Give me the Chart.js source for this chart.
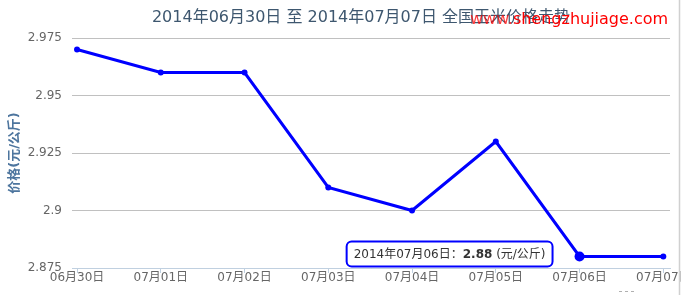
<!doctype html>
<html lang="zh">
<head>
<meta charset="utf-8">
<title>全国玉米价格走势</title>
<script src="https://cdn.jsdelivr.net/npm/chart.js"></script>
<style>
  body { margin: 0; background: #fff; }
  canvas { display: block; }
</style>
</head>
<body>
<canvas id="priceChart" width="681" height="295"></canvas>
<script>
// values
const year = '2014年';
const dates = ['06月30日', '07月01日', '07月02日', '07月03日', '07月04日', '07月05日', '07月06日', '07月07日'];
const prices = [2.97, 2.96, 2.96, 2.91, 2.90, 2.93, 2.88, 2.88];
const yTicks = [2.875, 2.9, 2.925, 2.95, 2.975];
const unit = '(元/公斤)';
const yTitle = '价格' + unit;
const titleText = year + dates[0] + ' 至 ' + year + dates[dates.length - 1] + ' 全国玉米价格走势';
const watermark = 'www.shengzhujiage.com';
const hoverIndex = 6;

const labelFont = '"DejaVu Sans", "Noto Sans CJK SC", sans-serif';

// title, watermark, frame edge and the fixed tooltip
const extras = {
  id: 'extras',
  afterDraw(chart) {
    const c = chart.ctx;
    c.save();
    c.font = '16px ' + labelFont;
    c.fillStyle = '#3E576F';
    c.textAlign = 'center';
    c.textBaseline = 'middle';
    c.fillText(titleText, 361, 18);

    // red site watermark
    c.textAlign = 'left';
    c.font = '16px ' + labelFont;
    const w1 = c.measureText('www.').width;
    c.fillStyle = 'rgba(255,0,0,0.75)';
    c.fillText('www.', 470, 20);
    c.fillStyle = '#FF0000';
    c.fillText(watermark.slice(4), 470 + w1, 20);

    // right edge of the frame
    c.strokeStyle = '#D0D0D0';
    c.lineWidth = 1.5;
    c.beginPath();
    c.moveTo(679.5, 0);
    c.lineTo(679.5, 295);
    c.stroke();
    // faint dashes at the bottom
    c.setLineDash([3, 3]);
    c.lineWidth = 1;
    c.strokeStyle = '#B0B0B0';
    c.beginPath();
    c.moveTo(619, 291.5);
    c.lineTo(636, 291.5);
    c.stroke();
    c.setLineDash([]);

    // tooltip for the hovered point
    const pt = chart.getDatasetMeta(0).data[hoverIndex];
    const parts = [
      { t: year + dates[hoverIndex] + '：', b: false },
      { t: prices[hoverIndex].toFixed(2), b: true },
      { t: ' ' + unit, b: false }
    ];
    let total = 0;
    parts.forEach(p => {
      c.font = (p.b ? 'bold ' : '') + '12px ' + labelFont;
      p.w = c.measureText(p.t).width;
      total += p.w;
    });
    const bw = total + 14, bh = 25;
    const bx = pt.x - 27 - bw, by = pt.y - 15;
    c.beginPath();
    c.roundRect(bx, by, bw, bh, 5);
    c.fillStyle = 'rgba(255,255,255,0.95)';
    c.fill();
    c.lineWidth = 2;
    c.strokeStyle = '#0000FF';
    c.stroke();
    let tx = bx + 7;
    c.fillStyle = '#333333';
    c.textBaseline = 'middle';
    parts.forEach(p => {
      c.font = (p.b ? 'bold ' : '') + '12px ' + labelFont;
      c.fillText(p.t, tx, by + bh / 2 + 1);
      tx += p.w;
    });
    c.restore();
  }
};

new Chart(document.getElementById('priceChart'), {
  type: 'line',
  data: {
    datasets: [{
      data: prices.map((v, i) => ({ x: i, y: v })),
      borderColor: '#0000FF',
      borderWidth: 3,
      backgroundColor: '#0000FF',
      pointBackgroundColor: '#0000FF',
      pointBorderWidth: 0,
      pointRadius: ctx => ctx.dataIndex === hoverIndex ? 5 : 3,
      tension: 0,
      fill: false
    }]
  },
  options: {
    responsive: false,
    animation: false,
    events: [],
    layout: { padding: { left: 0, right: 11, top: 38, bottom: 0 } },
    plugins: {
      legend: { display: false },
      title: { display: false },
      tooltip: { enabled: false }
    },
    scales: {
      x: {
        type: 'linear',
        min: -0.06,
        max: 7.08,
        afterBuildTicks: s => { s.ticks = dates.map((d, i) => ({ value: i })); },
        afterFit: s => { s.height = 27; s.paddingLeft = 0; s.paddingRight = 0; },
        ticks: {
          autoSkip: false,
          maxRotation: 0,
          padding: -2,
          color: '#666666',
          font: { family: labelFont, size: 12 },
          callback: v => dates[v]
        },
        grid: {
          drawOnChartArea: false,
          drawTicks: true,
          tickLength: 5,
          color: '#C0D0E0'
        },
        border: { display: true, color: '#C0D0E0', width: 1 }
      },
      y: {
        min: 2.875,
        max: 2.975,
        afterBuildTicks: s => { s.ticks = yTicks.map(v => ({ value: v })); },
        afterFit: s => { s.width = 72; s.paddingTop = 0; s.paddingBottom = 0; },
        ticks: {
          padding: 10,
          color: '#666666',
          font: { family: labelFont, size: 12 },
          callback: v => String(+v.toFixed(3))
        },
        grid: { color: '#C0C0C0', drawTicks: false },
        border: { display: false },
        title: {
          display: true,
          text: yTitle,
          color: '#4D759E',
          font: { family: labelFont, size: 13, weight: 'bold' },
          padding: { top: 7, bottom: 0 }
        }
      }
    }
  },
  plugins: [extras]
});
</script>
</body>
</html>
